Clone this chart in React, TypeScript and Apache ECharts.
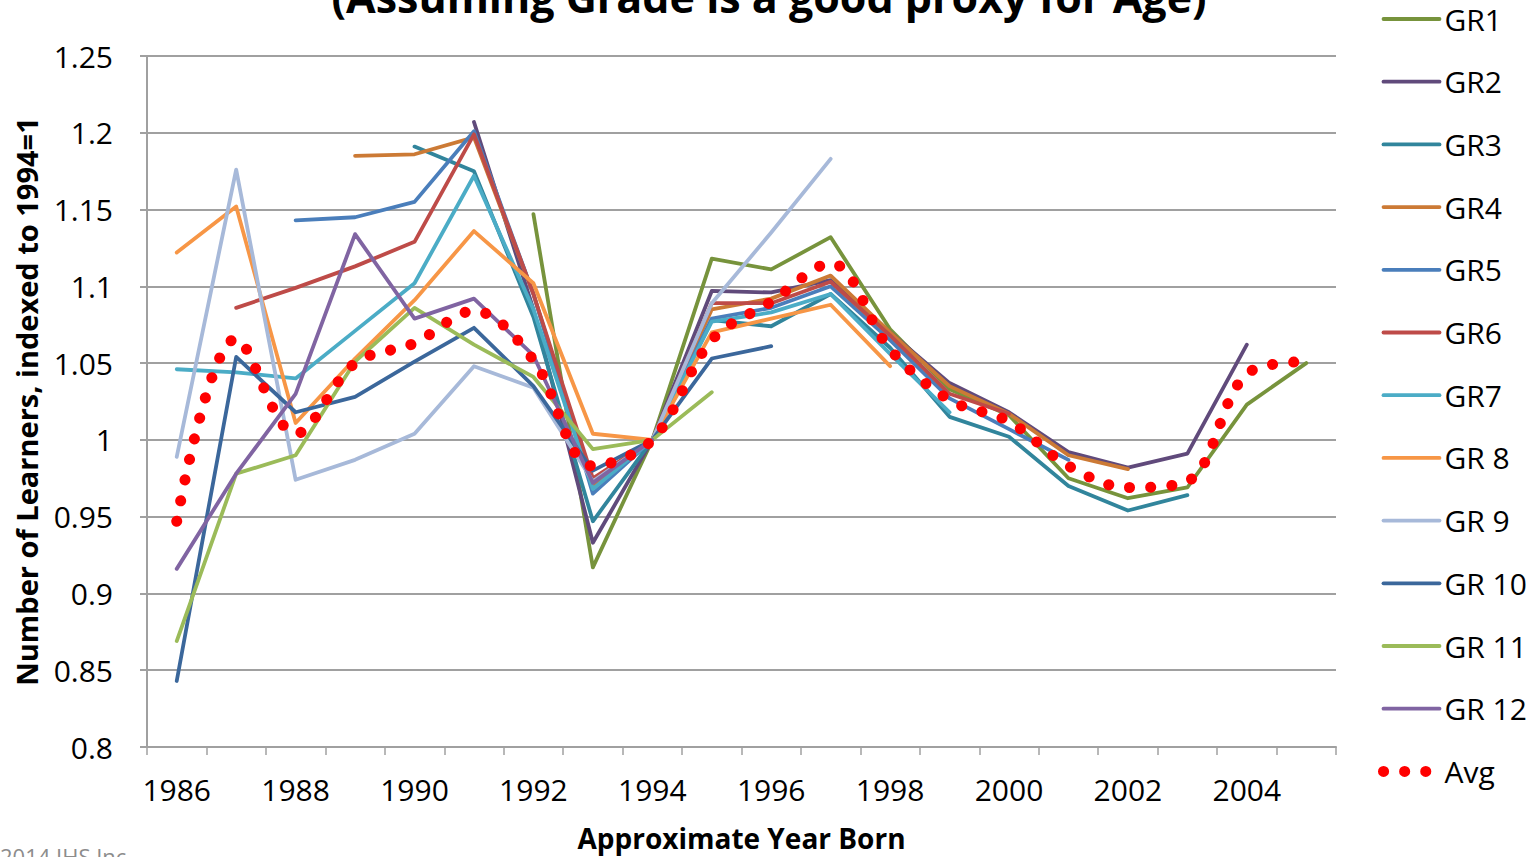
import React, { useEffect, useRef } from "react";
import * as echarts from "echarts";

const years = ["1986","1987","1988","1989","1990","1991","1992","1993","1994","1995","1996","1997","1998","1999","2000","2001","2002","2003","2004","2005"];
const yTicks = { min: 0.8, max: 1.25, interval: 0.05 };

const gr1 = [null,null,null,null,null,null,1.147,0.917,1.0,1.118,1.111,1.132,1.072,1.033,1.016,0.975,0.962,0.969,1.023,1.05];
const gr2 = [null,null,null,null,null,1.207,1.085,0.933,1.0,1.097,1.096,1.104,1.07,1.037,1.018,0.992,0.982,0.991,1.062,null];
const gr3 = [null,null,null,null,1.191,1.175,1.08,0.947,1.0,1.078,1.074,1.095,1.06,1.015,1.002,0.97,0.954,0.964,null,null];
const gr4 = [null,null,null,1.185,1.186,1.197,1.095,0.97,1.0,1.085,1.092,1.107,1.07,1.035,1.017,0.99,0.981,null,null,null];
const gr5 = [null,null,1.143,1.145,1.155,1.201,1.095,0.965,1.0,1.079,1.086,1.1,1.065,1.027,1.007,0.987,null,null,null,null];
const gr6 = [null,1.086,1.099,1.113,1.129,1.199,1.095,0.975,1.0,1.089,1.089,1.103,1.068,1.03,1.017,null,null,null,null,null];
const gr7 = [1.046,1.044,1.04,1.071,1.102,1.172,1.085,0.968,1.0,1.077,1.083,1.095,1.056,1.018,null,null,null,null,null,null];
const gr8 = [1.122,1.152,1.011,1.053,1.091,1.136,1.102,1.004,1.0,1.07,1.079,1.088,1.048,null,null,null,null,null,null,null];
const gr9 = [0.989,1.176,0.974,0.987,1.004,1.048,1.034,0.973,1.0,1.089,1.135,1.183,null,null,null,null,null,null,null,null];
const gr10 = [0.843,1.054,1.018,1.028,1.051,1.073,1.035,0.98,1.0,1.053,1.061,null,null,null,null,null,null,null,null,null];
const gr11 = [0.869,0.978,0.99,1.051,1.086,1.062,1.041,0.994,1.0,1.031,null,null,null,null,null,null,null,null,null,null];
const gr12 = [0.916,0.978,1.03,1.134,1.079,1.092,1.055,0.972,1.0,null,null,null,null,null,null,null,null,null,null,null];
const avg = [0.947,1.066,1.004,1.05,1.063,1.084,1.052,0.983,1.0,1.065,1.09,1.115,1.059,1.026,1.012,0.983,0.969,0.973,1.043,1.051];

const seriesNames = ["GR1","GR2","GR3","GR4","GR5","GR6","GR7","GR 8","GR 9","GR 10","GR 11","GR 12"];
const seriesData = [gr1,gr2,gr3,gr4,gr5,gr6,gr7,gr8,gr9,gr10,gr11,gr12];
const seriesColors = ["#77933C","#604A7B","#31859C","#CC7A35","#4A7EBB","#BE4B48","#4BACC6","#F79646","#A7B9D9","#3B679B","#9BBB59","#8064A2"];

const FONT = "'Open Sans', 'Liberation Sans', sans-serif";

export default function App() {
  const ref = useRef<HTMLDivElement>(null);
  useEffect(() => {
    if (!ref.current) return;
    const chart = echarts.init(ref.current, undefined, { renderer: "svg" });
    const lineSeries: any[] = seriesNames.map((n, i) => ({
      name: n,
      type: "line",
      data: seriesData[i],
      symbol: "none",
      lineStyle: { color: seriesColors[i], width: 3.8, cap: "round", join: "round" },
      itemStyle: { color: seriesColors[i] },
      connectNulls: false,
    }));
    lineSeries.push({
      name: "Avg",
      type: "line",
      data: avg,
      symbol: "none",
      smooth: 0.35,
      lineStyle: { color: "#FF0000", width: 11, type: [0.1, 21], cap: "round" },
      itemStyle: { color: "#FF0000" },
      z: 5,
    });
    const legendData: any[] = seriesNames.map((n) => ({
      name: n,
      lineStyle: { width: 3.8 },
      itemStyle: { opacity: 0 },
    }));
    legendData.push({ name: "Avg", lineStyle: { width: 11 }, itemStyle: { opacity: 0 } });

    chart.setOption({
      animation: false,
      backgroundColor: "#fff",
      textStyle: { fontFamily: FONT },
      grid: { left: 147, right: 204, top: 56, bottom: 110, containLabel: false },
      legend: {
        orient: "vertical",
        left: 1373,
        top: -1,
        itemWidth: 56,
        itemHeight: 20,
        itemGap: 32.7,
        data: legendData,
        itemStyle: { opacity: 0 },
        textStyle: { fontSize: 30, color: "#000", fontFamily: FONT },
      },
      xAxis: {
        type: "category",
        data: years,
        boundaryGap: true,
        name: "Approximate Year Born",
        nameLocation: "middle",
        nameGap: 77,
        nameTextStyle: { fontSize: 28, fontWeight: "bold", color: "#000", fontFamily: FONT },
        axisLine: { lineStyle: { color: "#A0A0A0", width: 2 } },
        axisTick: { show: true, interval: 0, length: 8, lineStyle: { color: "#A0A0A0", width: 1.5 } },
        axisLabel: { interval: 1, margin: 27, fontSize: 30, color: "#000", fontFamily: FONT },
        splitLine: { show: false },
      },
      yAxis: {
        type: "value",
        min: yTicks.min,
        max: yTicks.max,
        interval: yTicks.interval,
        name: "Number of Learners, indexed to 1994=1",
        nameLocation: "middle",
        nameGap: 106,
        nameTextStyle: { fontSize: 29, fontWeight: "bold", color: "#000", fontFamily: FONT },
        axisLine: { show: true, lineStyle: { color: "#A0A0A0", width: 2 } },
        axisTick: { show: true, length: 7, lineStyle: { color: "#A0A0A0", width: 2 } },
        axisLabel: { margin: 34, fontSize: 30, color: "#000", fontFamily: FONT },
        splitLine: { show: true, lineStyle: { color: "#A0A0A0", width: 2 } },
      },
      graphic: [
        {
          type: "text",
          x: 769,
          y: -4,
          style: {
            text: "(Assuming Grade is a good proxy for Age)",
            fontSize: 43,
            fontWeight: "bold",
            fontFamily: FONT,
            fill: "#000",
            align: "center",
            verticalAlign: "middle",
          },
        },
        {
          type: "text",
          x: 0,
          y: 845,
          style: {
            text: "2014 IHS Inc.",
            fontSize: 22,
            fontFamily: FONT,
            fill: "#8C8C8C",
            align: "left",
            verticalAlign: "top",
          },
        },
      ],
      series: lineSeries,
    });
    return () => chart.dispose();
  }, []);
  return (
    <div
      ref={ref}
      style={{ position: "fixed", left: 0, top: 0, width: 1540, height: 857, background: "#fff" }}
    />
  );
}
